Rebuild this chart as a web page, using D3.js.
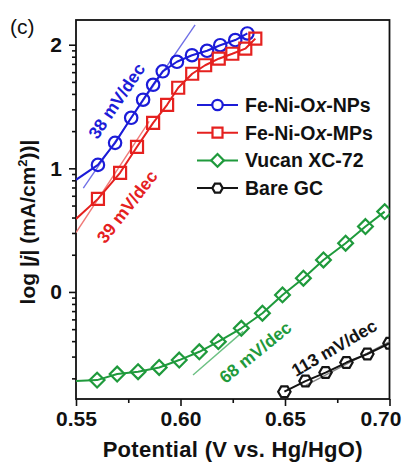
<!DOCTYPE html>
<html>
<head>
<meta charset="utf-8">
<script src="https://cdn.jsdelivr.net/npm/d3@7"></script>
<style>
  body { margin: 0; background: #fff; }
  text { font-family: 'Liberation Sans', Arial, sans-serif; }
</style>
</head>
<body>
<div id="chart"></div>
<script>
// potential (V vs. Hg/HgO) and log|j|
const potentialNPs = [0.55, 0.5605, 0.5687, 0.5764, 0.5821, 0.5869, 0.5915, 0.5983, 0.6055, 0.6127, 0.6190, 0.6262, 0.6320]
const logjNPs = [0.907, 1.028, 1.206, 1.409, 1.555, 1.676, 1.785, 1.862, 1.915, 1.951, 1.996, 2.038, 2.091]

const potentialMPs = [0.55, 0.5605, 0.5711, 0.5792, 0.5869, 0.5936, 0.5989, 0.6056, 0.6118, 0.6183, 0.6248, 0.6310, 0.6358]
const logjMPs = [0.591, 0.753, 0.964, 1.174, 1.368, 1.514, 1.652, 1.765, 1.834, 1.887, 1.927, 1.968, 2.049]

const potentialXC = [0.55, 0.5601, 0.5697, 0.5797, 0.5898, 0.5994, 0.6090, 0.6181, 0.6291, 0.6392, 0.6488, 0.6588, 0.6684, 0.6790, 0.6885, 0.6977]
const logjXC = [-0.720, -0.713, -0.664, -0.645, -0.611, -0.551, -0.484, -0.402, -0.294, -0.172, -0.024, 0.111, 0.259, 0.394, 0.529, 0.650]

const potentialGC = [0.6497, 0.6598, 0.6694, 0.6794, 0.6894, 0.70]
const logjGC = [-0.807, -0.721, -0.652, -0.571, -0.502, -0.415]

// Tafel fit segments
const fitPotentialNPs = [0.5535, 0.607]
const fitLogjNPs = [0.84, 2.16]
const fitPotentialMPs = [0.55, 0.585]
const fitLogjMPs = [0.48, 1.38]
const fitPotentialXC = [0.606, 0.630]
const fitLogjXC = [-0.672, -0.319]
const fitPotentialGC = [0.66, 0.70]
const fitLogjGC = [-0.756, -0.402]

const seriesNames = ['Fe-Ni-Ox-NPs', 'Fe-Ni-Ox-MPs', 'Vucan XC-72', 'Bare GC']
const slopeLabels = ['38 mV/dec', '39 mV/dec', '68 mV/dec', '113 mV/dec']

const xTicks = [0.55, 0.60, 0.65, 0.70]
const xMinorTicks = [0.575, 0.625, 0.675]
const yTicks = [0, 1, 2]

const width = 404
const height = 469
const plot = { left: 76, right: 389.5, top: 20, bottom: 399 }

const zip = (xs, ys) => xs.map((v, i) => ({ v, j: ys[i] }))

const series = [
  { name: seriesNames[0], data: zip(potentialNPs, logjNPs), fit: zip(fitPotentialNPs, fitLogjNPs), color: '#1c1cd8', fitColor: '#6f6fe6', shape: 'circle', markFrom: 1 },
  { name: seriesNames[1], data: zip(potentialMPs, logjMPs), fit: zip(fitPotentialMPs, fitLogjMPs), color: '#e5211f', fitColor: '#f07a78', shape: 'square', markFrom: 1 },
  { name: seriesNames[2], data: zip(potentialXC, logjXC), fit: zip(fitPotentialXC, fitLogjXC), color: '#1f9a3c', fitColor: '#6cc083', shape: 'diamond', markFrom: 1 },
  { name: seriesNames[3], data: zip(potentialGC, logjGC), fit: zip(fitPotentialGC, fitLogjGC), color: '#151515', fitColor: '#888', shape: 'hexagon', markFrom: 0 }
]

const x = d3.scaleLinear()
  .domain([0.55, 0.70])
  .range([plot.left, plot.right])

const y = d3.scaleLinear()
  .domain([-0.866, 2.2])
  .range([plot.bottom, plot.top])

const markerPath = (shape, r) => {
  if (shape === 'circle') return d3.symbol(d3.symbolCircle, Math.PI * r * r)()
  if (shape === 'square') return `M${-r},${-r}H${r}V${r}H${-r}Z`
  if (shape === 'diamond') return `M0,${-r}L${r},0L0,${r}L${-r},0Z`
  const pts = d3.range(6).map(k => [r * Math.cos(k * Math.PI / 3), r * Math.sin(k * Math.PI / 3)])
  return 'M' + pts.join('L') + 'Z'
}
const markerSize = { circle: 6.2, square: 6, diamond: 7.4, hexagon: 6.2 }

const svg = d3.select('#chart').append('svg')
  .attr('width', width)
  .attr('height', height)

svg.append('defs').append('clipPath')
  .attr('id', 'clip')
  .append('rect')
  .attr('x', plot.left)
  .attr('y', plot.top)
  .attr('width', plot.right - plot.left)
  .attr('height', plot.bottom - plot.top)

// axes
const xAxis = g => g
  .attr('transform', `translate(0,${plot.bottom})`)
  .call(d3.axisBottom(x).tickValues(xTicks).tickFormat(d3.format('.2f')).tickSize(7).tickPadding(5))
  .call(g => g.select('.domain').remove())

const xMinor = g => g
  .attr('transform', `translate(0,${plot.bottom})`)
  .call(d3.axisBottom(x).tickValues(xMinorTicks).tickFormat('').tickSize(4))
  .call(g => g.select('.domain').remove())

const yMinorTicks = [-1, 0, 1, 2]
  .flatMap(n => d3.range(2, 10).map(k => n + Math.log10(k)))
  .filter(v => v > y.domain()[0] && v < y.domain()[1])

const yAxis = g => g
  .attr('transform', `translate(${plot.left},0)`)
  .call(d3.axisLeft(y).tickValues(yTicks).tickFormat(d3.format('d')).tickSize(7).tickPadding(7))
  .call(g => g.select('.domain').remove())

const yMinor = g => g
  .attr('transform', `translate(${plot.left},0)`)
  .call(d3.axisLeft(y).tickValues(yMinorTicks).tickFormat('').tickSize(4))
  .call(g => g.select('.domain').remove())

svg.append('g').call(xMinor)
svg.append('g').call(yMinor)
svg.append('g').attr('class', 'x-axis').call(xAxis)
svg.append('g').call(yAxis)

svg.selectAll('.tick line')
  .attr('stroke', '#111')
  .attr('stroke-width', 1.6)

svg.selectAll('.tick text')
  .attr('fill', '#111')
  .attr('font-size', 21)
  .attr('font-weight', 'bold')
  .attr('font-family', "'Liberation Sans', Arial, sans-serif")

svg.select('.x-axis').selectAll('.tick text')
  .filter(d => d === 0.70)
  .attr('dx', -9)

svg.append('rect')
  .attr('x', plot.left)
  .attr('y', plot.top)
  .attr('width', plot.right - plot.left)
  .attr('height', plot.bottom - plot.top)
  .attr('fill', 'none')
  .attr('stroke', '#111')
  .attr('stroke-width', 1.8)

// data
const line = d3.line()
  .x(d => x(d.v))
  .y(d => y(d.j))

const plotArea = svg.append('g').attr('clip-path', 'url(#clip)')

series.forEach(s => {
  plotArea.append('path')
    .datum(s.fit)
    .attr('fill', 'none')
    .attr('stroke', s.fitColor)
    .attr('stroke-width', 1.4)
    .attr('d', line)

  plotArea.append('path')
    .datum(s.data)
    .attr('fill', 'none')
    .attr('stroke', s.color)
    .attr('stroke-width', 2)
    .attr('stroke-linejoin', 'round')
    .attr('d', line)

  plotArea.selectAll(null)
    .data(s.data.slice(s.markFrom))
    .join('path')
    .attr('transform', d => `translate(${x(d.v)},${y(d.j)})`)
    .attr('d', markerPath(s.shape, markerSize[s.shape]))
    .attr('fill', 'none')
    .attr('stroke', s.color)
    .attr('stroke-width', 2.2)
})

// slope labels
const slopeSpots = [
  { at: [0.5694, 1.545], angle: -56 },
  { at: [0.5744, 0.690], angle: -52 },
  { at: [0.6358, -0.488], angle: -39 },
  { at: [0.6735, -0.452], angle: -30 }
]

slopeSpots.forEach((p, i) => {
  svg.append('text')
    .attr('transform', `translate(${x(p.at[0])},${y(p.at[1])}) rotate(${p.angle})`)
    .attr('text-anchor', 'middle')
    .attr('dy', '0.35em')
    .attr('font-size', 17.5)
    .attr('font-weight', 'bold')
    .attr('fill', series[i].color)
    .text(slopeLabels[i])
})

// legend
const legend = svg.append('g')
  .attr('transform', 'translate(197,105)')

series.forEach((s, i) => {
  const row = legend.append('g')
    .attr('transform', `translate(0,${i * 27.7})`)

  row.append('line')
    .attr('x1', 0)
    .attr('x2', 41)
    .attr('stroke', s.color)
    .attr('stroke-width', 2)

  row.append('path')
    .attr('transform', 'translate(20.5,0)')
    .attr('d', markerPath(s.shape, markerSize[s.shape] - 1))
    .attr('fill', '#fff')
    .attr('stroke', s.color)
    .attr('stroke-width', 2.2)

  const label = row.append('text')
    .attr('x', 48)
    .attr('dy', '0.35em')
    .attr('font-size', 19.5)
    .attr('font-weight', 'bold')
    .attr('fill', '#111')

  const parts = s.name.split('Ox')
  if (parts.length === 2) {
    label.append('tspan').text(parts[0] + 'O')
    label.append('tspan').attr('font-style', 'italic').text('x')
    label.append('tspan').text(parts[1])
  } else {
    label.text(s.name)
  }
})

// titles
svg.append('text')
  .attr('x', (plot.left + plot.right) / 2)
  .attr('y', 457)
  .attr('text-anchor', 'middle')
  .attr('font-size', 22)
  .attr('letter-spacing', 0.3)
  .attr('font-weight', 'bold')
  .attr('fill', '#111')
  .text('Potential (V vs. Hg/HgO)')

const yTitle = svg.append('text')
  .attr('transform', 'translate(35,222) rotate(-90)')
  .attr('text-anchor', 'middle')
  .attr('font-size', 21)
  .attr('font-weight', 'bold')
  .attr('fill', '#111')

yTitle.append('tspan').text('log |')
yTitle.append('tspan').attr('font-style', 'italic').text('j')
yTitle.append('tspan').text('| (mA/cm')
yTitle.append('tspan').attr('font-size', 13).attr('dy', -8).text('2')
yTitle.append('tspan').attr('dy', 8).text('))|')

svg.append('text')
  .attr('x', 10)
  .attr('y', 34)
  .attr('font-size', 21)
  .attr('fill', '#111')
  .text('(c)')
</script>
</body>
</html>
